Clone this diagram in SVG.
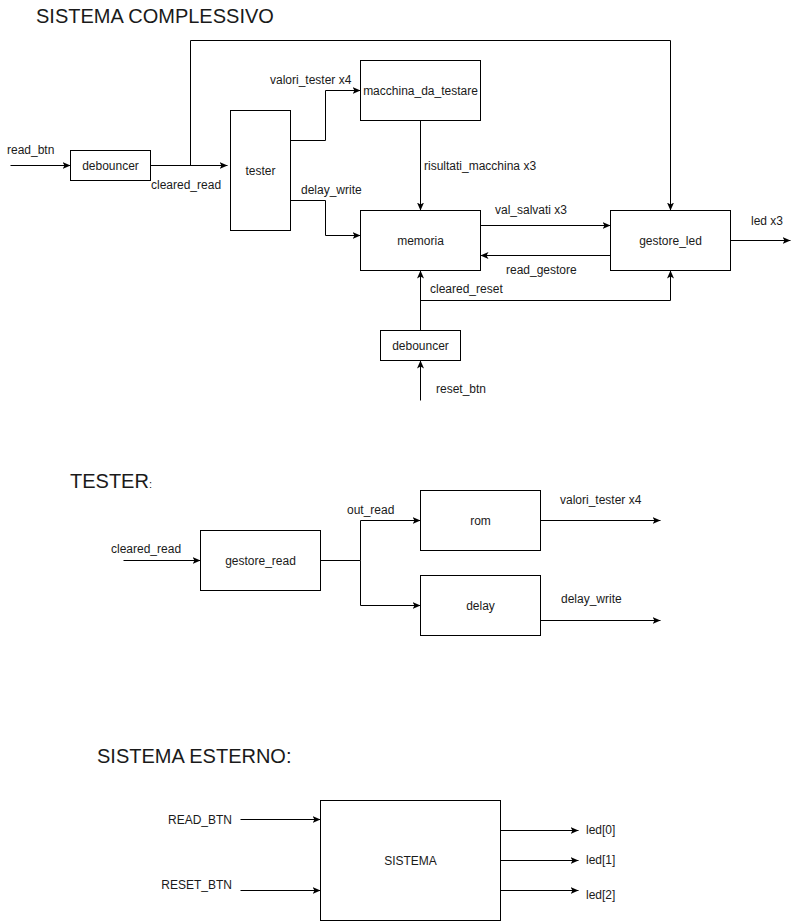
<svg xmlns="http://www.w3.org/2000/svg" width="799" height="921" viewBox="0 0 799 921">
<style>
.box{fill:#fff;stroke:#000;stroke-width:1}
.ln{fill:none;stroke:#000;stroke-width:1}
.arr{marker-end:url(#ah)}
text{font-family:"Liberation Sans",Arial,sans-serif;font-size:12px;fill:#1a1a1a}
.c{text-anchor:middle}
.e{text-anchor:end}
.t{font-size:20px}
</style>
<defs>
<marker id="ah" viewBox="0 0 8 7" refX="8" refY="3.5" markerWidth="8" markerHeight="7" markerUnits="userSpaceOnUse" orient="auto">
<path d="M0,0 L8,3.5 L0,7 L2,3.5 Z" fill="#000"/>
</marker>
</defs>
<rect width="799" height="921" fill="#fff"/>
<text class="t" x="36" y="23">SISTEMA COMPLESSIVO</text>
<text class="t" x="70" y="488">TESTER<tspan font-size="11">:</tspan></text>
<text class="t" x="97" y="763">SISTEMA ESTERNO:</text>
<g transform="translate(0.5,0.5)">
<g id="connectors">
<path class="ln arr" d="M10,165 H70"/>
<path class="ln arr" d="M150,165 H227"/>
<path class="ln arr" d="M190,165 V40 H670 V210"/>
<path class="ln arr" d="M290,140 H325 V90 H360"/>
<path class="ln arr" d="M290,200 H325 V235 H360"/>
<path class="ln arr" d="M420,120 V210"/>
<path class="ln arr" d="M480,225 H610"/>
<path class="ln arr" d="M610,255 H480"/>
<path class="ln arr" d="M730,240 H790"/>
<path class="ln arr" d="M420,400 V360"/>
<path class="ln arr" d="M420,330 V270"/>
<path class="ln arr" d="M420,300 H670 V270"/>
<path class="ln arr" d="M123,560 H200"/>
<path class="ln arr" d="M320,560 H360 V520 H420"/>
<path class="ln arr" d="M360,560 V605 H420"/>
<path class="ln arr" d="M540,520 H660"/>
<path class="ln arr" d="M540,620 H660"/>
<path class="ln arr" d="M240,819 H320"/>
<path class="ln arr" d="M240,890 H320"/>
<path class="ln arr" d="M500,830 H578"/>
<path class="ln arr" d="M500,860 H578"/>
<path class="ln arr" d="M500,890 H578"/>
</g>
<g id="debouncer_read"><rect class="box" x="70" y="150" width="80" height="30"/><text class="c" x="110" y="169">debouncer</text></g>
<g id="tester"><rect class="box" x="230" y="110" width="60" height="120"/><text class="c" x="260" y="174">tester</text></g>
<g id="macchina"><rect class="box" x="360" y="60" width="120" height="60"/><text class="c" x="420" y="94">macchina_da_testare</text></g>
<g id="memoria"><rect class="box" x="360" y="210" width="120" height="60"/><text class="c" x="420" y="244">memoria</text></g>
<g id="gestore_led"><rect class="box" x="610" y="210" width="120" height="60"/><text class="c" x="670" y="244">gestore_led</text></g>
<g id="debouncer_reset"><rect class="box" x="380" y="330" width="80" height="30"/><text class="c" x="420" y="349">debouncer</text></g>
<g id="gestore_read"><rect class="box" x="200" y="530" width="120" height="60"/><text class="c" x="260" y="564">gestore_read</text></g>
<g id="rom"><rect class="box" x="420" y="490" width="120" height="60"/><text class="c" x="480" y="524">rom</text></g>
<g id="delay"><rect class="box" x="420" y="575" width="120" height="60"/><text class="c" x="480" y="609">delay</text></g>
<g id="sistema"><rect class="box" x="320" y="800" width="180" height="120"/><text class="c" x="410" y="864">SISTEMA</text></g>
</g>
<g id="labels">
<text x="7" y="154">read_btn</text>
<text x="151" y="189">cleared_read</text>
<text x="270" y="84">valori_tester x4</text>
<text x="301" y="194">delay_write</text>
<text x="424" y="170">risultati_macchina x3</text>
<text x="495" y="214">val_salvati x3</text>
<text x="506" y="274">read_gestore</text>
<text x="751" y="225">led x3</text>
<text x="430" y="293">cleared_reset</text>
<text x="436" y="393">reset_btn</text>
<text x="347" y="514">out_read</text>
<text x="111" y="553">cleared_read</text>
<text x="560" y="504">valori_tester x4</text>
<text x="561" y="603">delay_write</text>
<text class="e" x="232" y="824">READ_BTN</text>
<text class="e" x="232" y="889">RESET_BTN</text>
<text x="586" y="834">led[0]</text>
<text x="586" y="864">led[1]</text>
<text x="586" y="899">led[2]</text>
</g>
</svg>
